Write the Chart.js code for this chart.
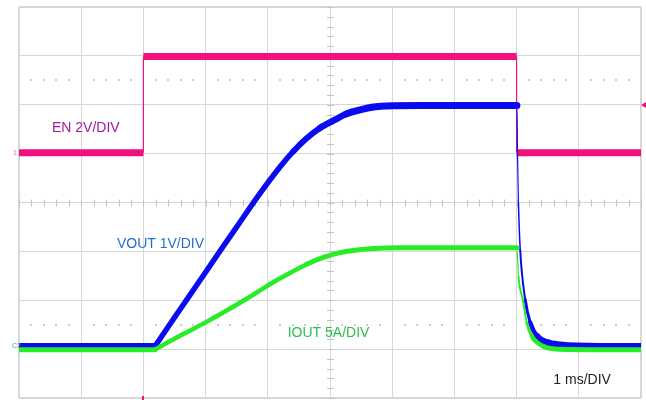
<!DOCTYPE html>
<html>
<head>
<meta charset="utf-8">
<script src="https://cdn.jsdelivr.net/npm/chart.js@4.4.1/dist/chart.umd.min.js"></script>
<style>
  html, body { margin: 0; padding: 0; background: #fff; }
  #wrap { width: 646px; height: 400px; }
</style>
</head>
<body>
<div id="wrap"><canvas id="scope" width="646" height="400"></canvas></div>
<script>
// time axis: 1 ms/div, 10 divisions on screen
const enTime  = [0, 2.0, 2.0, 8.0, 8.0, 10];
const enVolts = [0, 0, 3.93, 3.93, 0, 0];

const voutTime  = [0, 2.184, 2.20, 2.478, 2.747, 3.016, 3.257, 3.552, 3.846, 4.195, 4.409, 4.625, 4.839, 5.053, 5.269, 5.483, 5.697, 5.913, 6.449, 8.005, 8.015, 8.030, 8.058, 8.138, 8.218, 8.326, 8.487, 8.701, 9.345, 10];
const voutVolts = [0, 0, 0.03, 0.55, 1.05, 1.55, 2.00, 2.54, 3.08, 3.67, 3.99, 4.26, 4.47, 4.62, 4.76, 4.84, 4.90, 4.92, 4.93, 4.93, 3.89, 2.93, 1.98, 0.96, 0.49, 0.21, 0.08, 0.03, 0, 0];

const ioutTime = [0, 2.184, 2.20, 2.478, 2.747, 3.016, 3.283, 3.552, 3.820, 4.088, 4.357, 4.625, 4.892, 5.161, 5.430, 5.697, 6.126, 8.005, 8.030, 8.100, 8.165, 8.246, 8.433, 8.701, 9.345, 10];
const ioutAmps = [0, 0, 0.06, 1.05, 1.95, 2.85, 3.80, 4.80, 5.85, 6.90, 7.85, 8.75, 9.45, 9.93, 10.20, 10.35, 10.43, 10.43, 7.50, 5.11, 2.73, 1.36, 0.34, 0.05, 0, 0];

const labelTexts = ['EN 2V/DIV', 'VOUT 1V/DIV', 'IOUT 5A/DIV', '1 ms/DIV'];
const trigLevel = 1.95; // volts on EN

function pts(xs, ys) {
	return xs.map(function(x, i){ return {x: x, y: ys[i]}; });
}

// noisy trace band is vertical, so the visible width shrinks on steep parts
function band(w) {
	return function(ctx) {
		var dx = ctx.p1.x - ctx.p0.x, dy = ctx.p1.y - ctx.p0.y;
		var len = Math.hypot(dx, dy) || 1;
		return Math.max(1.2, Math.round(w * Math.sqrt(Math.abs(dx) / len) * 2) / 2);
	};
}

const gridColor = '#d7d7d7';

const scopeDecor = {
	id: 'scopeDecor',
	beforeDatasetsDraw: function(chart) {
		var c = chart.ctx, x = chart.scales.x, y = chart.scales.y;
		var cx = x.getPixelForValue(5), cy = y.getPixelForValue(4);
		var i, px, py;
		c.save();
		c.strokeStyle = '#c4c4c4';
		c.lineWidth = 1;
		c.beginPath();
		for (i = 0; i <= 40; i++) {
			py = Math.round(y.getPixelForValue(i * 0.2)) + 0.5;
			c.moveTo(cx - 3, py); c.lineTo(cx + 4, py);
		}
		for (i = 0; i <= 50; i++) {
			px = Math.round(x.getPixelForValue(i * 0.2)) + 0.5;
			c.moveTo(px, cy - 3); c.lineTo(px, cy + 4);
		}
		c.stroke();
		// dotted cursor rows
		c.fillStyle = '#cdcdcd';
		[6.5, 1.5].forEach(function(d) {
			py = Math.round(y.getPixelForValue(d));
			for (i = 1; i < 50; i++) {
				if (i % 5 === 0) continue;
				px = Math.round(x.getPixelForValue(i * 0.2));
				c.fillRect(px - 1, py - 1, 2, 2);
			}
		});
		c.restore();
	},
	afterDatasetsDraw: function(chart) {
		var c = chart.ctx, x = chart.scales.x, y = chart.scales.y;
		c.save();
		// trigger level marker (right) and trigger position (bottom)
		var ty = chart.scales.yEN.getPixelForValue(trigLevel);
		c.fillStyle = '#f0117f';
		c.beginPath();
		c.moveTo(641, ty); c.lineTo(646, ty - 3); c.lineTo(646, ty + 3); c.closePath();
		c.fill();
		c.fillRect(Math.round(x.getPixelForValue(2)) - 1, 396, 2, 4);
		// ground markers
		var g1 = chart.scales.yEN.getPixelForValue(0);
		var g2 = chart.scales.yV.getPixelForValue(0);
		c.font = '7px "Liberation Sans"';
		c.textBaseline = 'middle';
		c.fillStyle = '#e46aa6';
		c.fillText('1', 13, g1);
		c.fillStyle = '#3aa8a0';
		c.fillText('C2', 12, g2);
		// channel labels
		c.textBaseline = 'alphabetic';
		c.font = '14px "Liberation Sans"';
		var lab = [
			[0.53, 5.45, '#a3179e'],
			[1.575, 3.07, '#1f6fd4'],
			[4.32, 1.25, '#2dbd4e'],
			[8.59, 0.28, '#222222']
		];
		lab.forEach(function(l, i) {
			c.fillStyle = l[2];
			c.fillText(labelTexts[i], x.getPixelForValue(l[0]), y.getPixelForValue(l[1]));
		});
		c.restore();
	}
};

window.chart = new Chart('scope', {
	type: 'line',
	data: {
		datasets: [
			{
				label: 'IOUT', data: pts(ioutTime, ioutAmps), yAxisID: 'yI',
				borderColor: '#28ec28', borderWidth: 5, cubicInterpolationMode: 'monotone',
				borderCapStyle: 'round', order: 0, segment: {borderWidth: band(5)}
			},
			{
				label: 'VOUT', data: pts(voutTime, voutVolts), yAxisID: 'yV',
				borderColor: '#0b0bef', borderWidth: 7, cubicInterpolationMode: 'monotone',
				borderCapStyle: 'round', order: 1, segment: {borderWidth: band(7)}
			},
			{
				label: 'EN', data: pts(enTime, enVolts), yAxisID: 'yEN',
				borderColor: '#f0117f', borderWidth: 7, tension: 0,
				order: 2, segment: {borderWidth: function(ctx){ return ctx.p0.x === ctx.p1.x ? 1.2 : 7; }}
			}
		]
	},
	options: {
		responsive: false,
		animation: false,
		events: [],
		elements: {point: {radius: 0}},
		layout: {padding: {left: 19, top: 7, right: 5, bottom: 2}},
		plugins: {legend: {display: false}, tooltip: {enabled: false}},
		scales: {
			x: {
				type: 'linear', min: 0, max: 10,
				ticks: {display: false, stepSize: 1},
				grid: {color: gridColor, drawTicks: false, lineWidth: function(ctx){ return (ctx.tick && (ctx.tick.value === 0 || ctx.tick.value === 10)) ? 2 : 1; }},
				border: {display: false}
			},
			y: {
				min: 0, max: 8,
				ticks: {display: false, stepSize: 1},
				grid: {color: gridColor, drawTicks: false, lineWidth: function(ctx){ return (ctx.tick && (ctx.tick.value === 0 || ctx.tick.value === 8)) ? 2 : 1; }},
				border: {display: false}
			},
			yEN: {display: false, min: -10.04, max: 5.96},
			yV:  {display: false, min: -1.055, max: 6.945},
			yI:  {display: false, min: -4.94, max: 35.06}
		}
	},
	plugins: [scopeDecor]
});
</script>
</body>
</html>
